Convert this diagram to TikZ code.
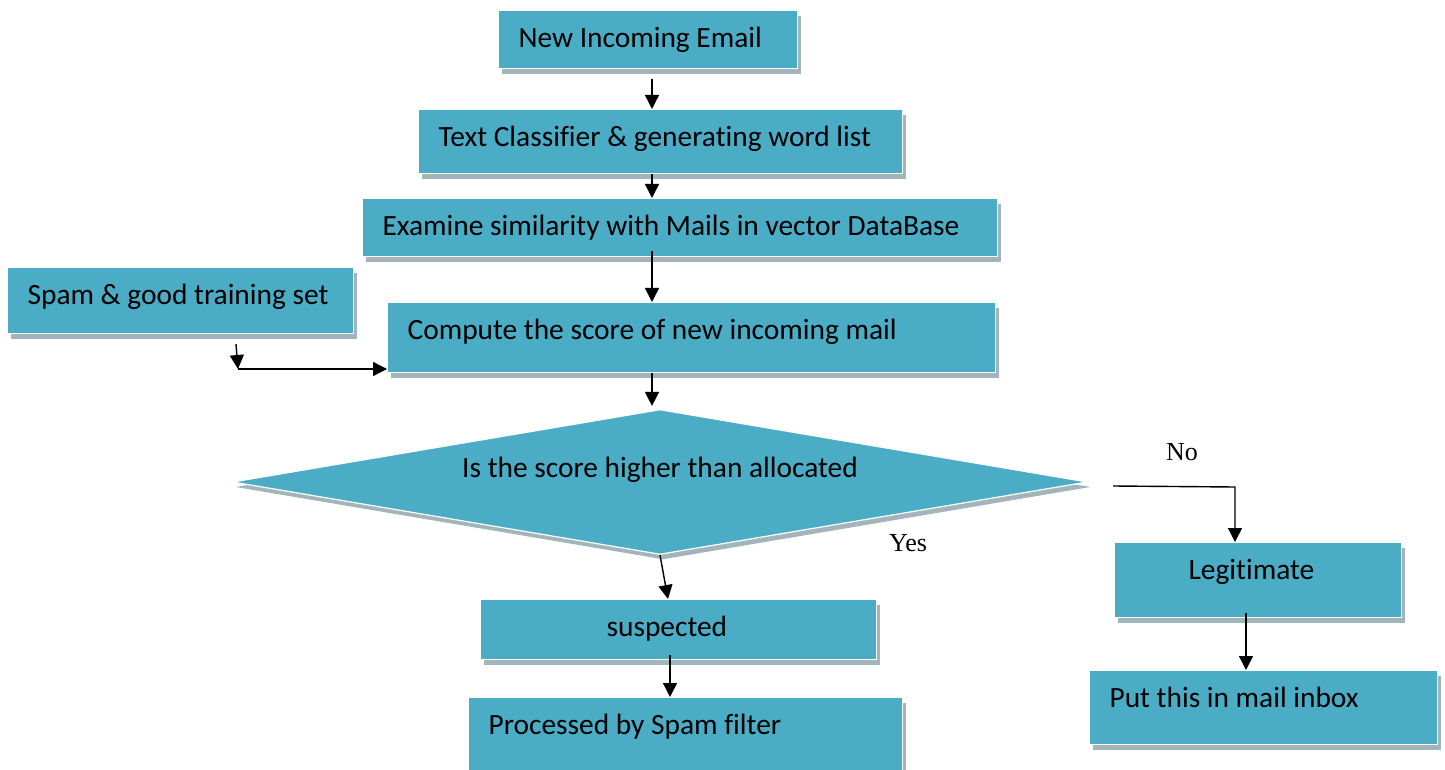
\documentclass[tikz,border=0pt]{standalone}
\usepackage{fontspec}
\usepackage{xcolor}
\usepackage{tikz}
\usetikzlibrary{calc,arrows.meta,shapes.geometric,shadows}
\newfontfamily\boxfont{Carlito}[Ligatures=NoCommon]
\newfontfamily\ynfont{Liberation Serif}
\definecolor{boxfill}{HTML}{4BACC6}
\definecolor{shade}{HTML}{A2B5BA}
\tikzset{
  flow/.style={draw=white, line width=0.6pt, fill=boxfill, anchor=north west,
    inner xsep=10pt, inner ysep=0pt, text height=18.5pt, align=flush left,
    font=\boxfont\fontsize{14.7pt}{17pt}\selectfont,
    drop shadow={shadow xshift=1.5pt, shadow yshift=-2.5pt, fill=shade, opacity=1}},
  decision/.style={diamond, draw=white, line width=0.6pt, fill=boxfill, aspect=5.9,
    minimum width=427.5pt, minimum height=72.5pt, inner sep=0pt,
    font=\boxfont\fontsize{14.7pt}{17pt}\selectfont,
    drop shadow={shadow xshift=1.5pt, shadow yshift=-2.5pt, fill=shade, opacity=1}},
  conn/.style={draw=black, line width=0.7pt, -{Triangle[length=7pt,width=7pt]}},
  yn/.style={font=\ynfont\fontsize{13pt}{15pt}\selectfont},
}
\begin{document}
\begin{tikzpicture}[x=0.5pt, y=-0.5pt]
\useasboundingbox (0,0) rectangle (1445,770);

\node[flow, text width=129.5pt, text depth=10.5pt] (email) at (498,10) {New Incoming Email};
\node[flow, text width=222pt, text depth=13.5pt] (classify) at (418,109) {Text Classifier \& generating word list};
\node[flow, text width=297.5pt, text depth=10.5pt] (examine) at (362,198) {Examine similarity with Mails in vector DataBase};
\node[flow, text width=153pt, text depth=14.5pt] (training) at (7,267) {Spam \& good training set};
\node[flow, text width=284pt, text depth=16.5pt] (score) at (387,302) {Compute the score of new incoming mail};
\node[decision, text height=10pt, text depth=15pt] (check) at (660,482) {Is the score higher than allocated};
\node[flow, text width=178pt, text depth=11.5pt] (suspected) at (480,599) {\hspace{53pt}suspected};
\node[flow, text width=197pt, text depth=21.5pt] (processed) at (468,697) {Processed by Spam filter};
\node[flow, text width=123.5pt, text depth=19pt] (legit) at (1114,542) {\hspace{27pt}Legitimate};
\node[flow, text width=154pt, text depth=18.5pt] (inbox) at (1089,670) {Put this in mail inbox};

\node[yn] (no) at (1182,452) {No};
\node[yn] (yes) at (908,543) {Yes};

% vertical lanes of the arrows
\coordinate (spine) at (652,0);
\coordinate (lane) at (670,0);
\coordinate (rlane) at (1246,0);
\coordinate (tj) at (238,369);
\coordinate (nj) at (1235,487);

\draw[conn] ($(email.south -| spine)+(0,10)$) -- (classify.north -| spine);
\draw[conn] (classify.south -| spine) -- (examine.north -| spine);
\draw[conn] ($(examine.south -| spine)+(0,-6)$) -- (score.north -| spine);
\draw[conn] (score.south -| spine) -- ($(check.north -| spine)+(0,-3)$);
\draw[conn] ($(training.south -| tj)+(-2,10)$) -- (tj);
\draw[conn] (tj) -- (tj -| score.west);
\draw[conn] (check.south) -- ($(suspected.north west)+(188,0)$);
\draw[conn] ($(suspected.south -| lane)+(0,-5)$) -- (processed.north -| lane);
\draw[conn] ($(check.east)+(25,4)$) -- (nj) -- (nj |- legit.north); % the No branch
\draw[conn] ($(legit.south -| rlane)+(0,-5)$) -- (inbox.north -| rlane);
\end{tikzpicture}
\end{document}
